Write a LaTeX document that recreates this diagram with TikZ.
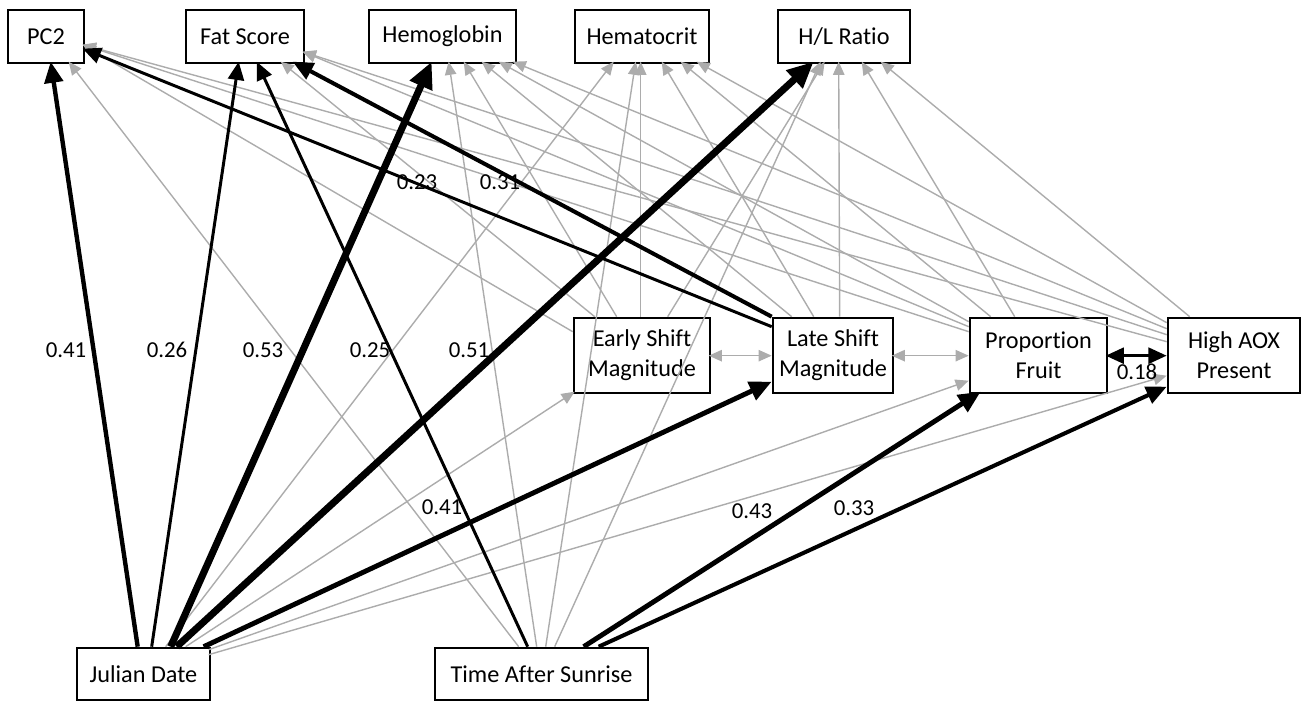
\documentclass[tikz,border=0pt]{standalone}
\usepackage{fontspec}
\setmainfont{Carlito}[Ligatures=NoCommon]
\usetikzlibrary{arrows.meta,calc}
\definecolor{lg}{RGB}{172,172,172}
\begin{document}
\begin{tikzpicture}[x=0.02cm,y=-0.02cm,
  bx/.style 2 args={draw,line width=1.5pt,inner sep=0pt,align=center,
    font=\fontsize{13.8}{17}\selectfont,
    minimum width=#1*0.02cm,minimum height=#2*0.02cm},
  lab/.style={inner sep=0pt,font=\fontsize{13}{15}\selectfont},
  g/.style={draw=lg,line width=0.8pt,-{Triangle[length=7.5pt,width=6.5pt]}},
  gg/.style={draw=lg,line width=0.8pt,{Triangle[length=7.5pt,width=6.5pt]}-{Triangle[length=7.5pt,width=6.5pt]}},
  k/.style={draw=black,line width=#1,-{Triangle[length=7pt 2,width=6pt 1.8]}},
  kk/.style={draw=black,line width=#1,{Triangle[length=7pt 2,width=6pt 1.8]}-{Triangle[length=7pt 2,width=6pt 1.8]}}
]
\useasboundingbox (0,0) rectangle (1309,702);
% boxes
\node[bx={76}{53}] (pc2) at (46,36.5) {PC2};
\node[bx={118}{53}] (fat) at (245,36.5) {Fat Score};
\node[bx={147}{53}] (hemo) at (442.5,36.5) {Hemoglobin};
\node[bx={134}{53}] (hct) at (642,36.5) {Hematocrit};
\node[bx={132}{53}] (hl) at (844,36.5) {H/L Ratio};
\node[bx={136}{75}] (early) at (642,355.5) {Early Shift\\Magnitude};
\node[bx={120}{75}] (late) at (833,355.5) {Late Shift\\Magnitude};
\node[bx={137}{75}] (prop) at (1038.5,355.5) {Proportion\\Fruit};
\node[bx={132}{75}] (aox) at (1234,355.5) {High AOX\\Present};
\node[bx={133}{52}] (jd) at (143.5,674) {Julian Date};
\node[bx={213}{52}] (tas) at (541.5,674) {Time After Sunrise};

% gray paths
\draw[g] ($(tas.north west)+(85,0)$) -- ($(pc2.north west)+(62,53)$);
\draw[g] ($(early.north west)+(0,15)$) -- ($(pc2.north west)+(76,36)$);
\draw[g] ($(prop.north west)+(0,15)$) -- ($(pc2.north west)+(76,36)$);
\draw[g] ($(aox.north west)+(0,25)$) -- ($(pc2.north west)+(76,36)$);

\draw[g] ($(early.north west)+(22,0)$) -- ($(fat.north west)+(96,53)$);
\draw[g] ($(prop.north west)+(0,10)$) -- ($(fat.north west)+(118,43)$);
\draw[g] ($(aox.north west)+(0,18)$) -- ($(fat.north west)+(118,43)$);

\draw[g] ($(tas.north west)+(103,0)$) -- ($(hemo.north west)+(81,53)$);
\draw[g] ($(early.north west)+(44,0)$) -- ($(hemo.north west)+(96,53)$);
\draw[g] ($(late.north west)+(20,0)$) -- ($(hemo.north west)+(114,53)$);
\draw[g] ($(prop.north west)+(0,5)$) -- ($(hemo.north west)+(131,53)$);
\draw[g] ($(aox.north west)+(0,12)$) -- ($(hemo.north west)+(145,53)$);

\draw[g] ($(jd.north west)+(90,0)$) -- ($(hct.north west)+(40,53)$);
\draw[g] ($(tas.north west)+(112,0)$) -- ($(hct.north west)+(62,53)$);
\draw[g] ($(early.north west)+(68,0)$) -- ($(hct.north west)+(67,53)$);
\draw[g] ($(late.north west)+(42,0)$) -- ($(hct.north west)+(88,53)$);
\draw[g] ($(prop.north west)+(22,0)$) -- ($(hct.north west)+(107,53)$);
\draw[g] ($(aox.north west)+(0,6)$) -- ($(hct.north west)+(123,53)$);

\draw[g] ($(tas.north west)+(121,0)$) -- ($(hl.north west)+(44,53)$);
\draw[g] ($(early.north west)+(95,0)$) -- ($(hl.north west)+(48,53)$);
\draw[g] ($(late.north west)+(68,0)$) -- ($(hl.north west)+(62,53)$);
\draw[g] ($(prop.north west)+(46,0)$) -- ($(hl.north west)+(85,53)$);
\draw[g] ($(aox.north west)+(23,0)$) -- ($(hl.north west)+(104,53)$);

\draw[g] ($(jd.north west)+(110,0)$) -- ($(early.north west)+(2,75)$);
\draw[g] ($(jd.north west)+(133,3)$) -- ($(prop.north west)+(0,64)$);
\draw[g] ($(jd.north west)+(133,8)$) -- ($(aox.north west)+(0,59)$);
\draw[gg] ($(early.north west)+(136,39)$) -- ($(late.north west)+(0,39)$);
\draw[gg] ($(late.north west)+(120,39)$) -- ($(prop.north west)+(0,39)$);

% black paths
\draw[k=2.5pt] ($(jd.north west)+(62,0)$) -- ($(pc2.north west)+(44,53)$);
\draw[k=1.7pt] ($(jd.north west)+(76,0)$) -- ($(fat.north west)+(54,53)$);
\draw[k=4pt] ($(jd.north west)+(95,0)$) -- ($(hemo.north west)+(64,53)$);
\draw[k=1.7pt] ($(tas.north west)+(94,0)$) -- ($(fat.north west)+(72,53)$);
\draw[k=4pt] ($(jd.north west)+(101,0)$) -- ($(hl.north west)+(37,53)$);
\draw[k=2.8pt] ($(jd.north west)+(128,0)$) -- ($(late.north west)+(0,65)$);
\draw[k=2.8pt] ($(tas.north west)+(150,0)$) -- ($(prop.north west)+(12,75)$);
\draw[k=2.3pt] ($(tas.north west)+(165,0)$) -- ($(aox.north west)+(0,70)$);
\draw[k=1.7pt] ($(late.north west)+(0,10)$) -- ($(pc2.north west)+(76,40)$);
\draw[k=2.3pt] (late.north west) -- ($(fat.north west)+(108,53)$);
\draw[kk=1.7pt] ($(prop.north west)+(137,39)$) -- ($(aox.north west)+(0,39)$);

% labels
\node[lab] (l1) at (66,350) {0.41};
\node[lab] (l2) at (167,350) {0.26};
\node[lab] (l3) at (263,350) {0.53};
\node[lab] (l4) at (370,350) {0.25};
\node[lab] (l5) at (469,350) {0.51};
\node[lab] (l6) at (417,182) {0.23};
\node[lab] (l7) at (500,182) {0.31};
\node[lab] (l8) at (442,507) {0.41};
\node[lab] (l9) at (752,511) {0.43};
\node[lab] (l10) at (854,508) {0.33};
\node[lab] (l11) at (1137,372) {0.18};
\end{tikzpicture}
\end{document}
